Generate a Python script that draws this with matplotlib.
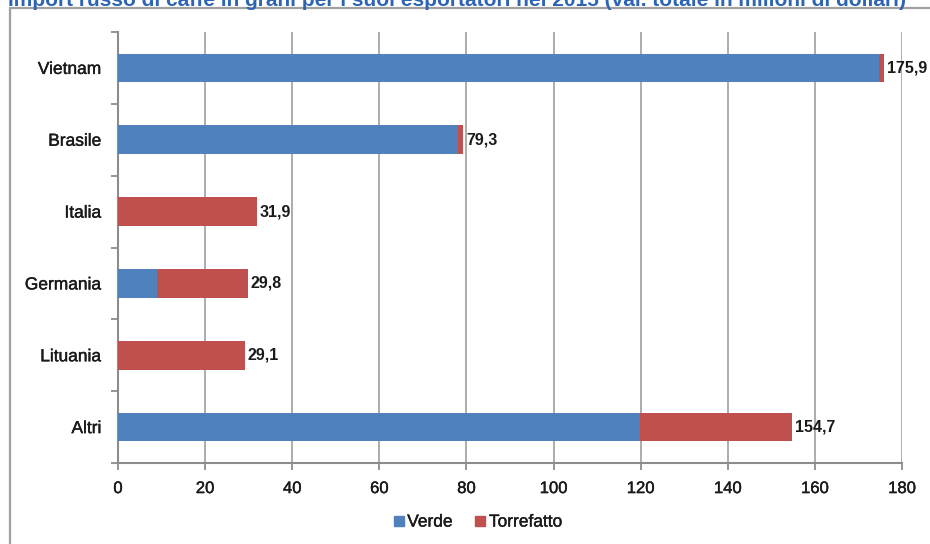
import matplotlib
matplotlib.use("Agg")
import matplotlib.pyplot as plt
from matplotlib.patches import Rectangle
from matplotlib.lines import Line2D
import matplotlib.patheffects as pe
import numpy as np

plt.rcParams['font.family'] = ['Liberation Sans', 'DejaVu Sans']

# Data (milioni di dollari)
paesi = ["Vietnam", "Brasile", "Italia", "Germania", "Lituania", "Altri"]
verde = [174.8, 78.0, 0.0, 8.9, 0.0, 119.8]
torrefatto = [1.1, 1.3, 31.9, 20.9, 29.1, 34.9]
totali = [175.9, 79.3, 31.9, 29.8, 29.1, 154.7]
etichette_totali = ["175,9", "79,3", "31,9", "29,8", "29,1", "154,7"]
xticks = [0, 20, 40, 60, 80, 100, 120, 140, 160, 180]
titolo = ("Import russo di caffè in grani per i suoi esportatori nel 2015 "
          "(val. totale in milioni di dollari)")

BLUE = "#4F81BD"
RED = "#C0504D"
GRID = "#a6a6a6"
AXIS = "#8c8c8c"
TEXT = "#1a1a1a"

# slightly heavier strokes for the regular-weight labels
heavy = [pe.withStroke(linewidth=0.3, foreground=TEXT)]

fig = plt.figure(figsize=(9.3, 5.44), dpi=100)
W, H = 930, 544

# Outer chart frame
fig.patches.append(Rectangle((10 / W, -0.05), 1.05, 1 - 8 / H + 0.05,
                             transform=fig.transFigure, fill=False,
                             edgecolor="#a0a0a0", linewidth=1.6, zorder=0))

# Title
fig.text(8 / W, 1 - 6 / H, titolo, color="#2E64B4", fontsize=15,
         fontweight="bold", ha="left", va="baseline")

ax = fig.add_axes([118 / W, 1 - 463 / H, (902 - 118) / W, (463 - 32) / H])

y = np.arange(len(paesi))
h = 0.4
ax.barh(y, verde, height=h, color=BLUE, zorder=3)
ax.barh(y, torrefatto, left=verde, height=h, color=RED, zorder=3)

for yi, tot, lab in zip(y, totali, etichette_totali):
    ax.annotate(lab, (tot, yi), xytext=(2, 0), textcoords="offset points",
                ha="left", va="center", fontsize=11.5, fontweight="bold",
                color=TEXT, zorder=5)

ax.set_xlim(0, 180)
ax.set_ylim(len(paesi) - 0.5, -0.5)
ax.set_xticks(xticks)
ax.set_xticklabels([str(v) for v in xticks])
ax.set_yticks(y)
ax.set_yticklabels(paesi)
ax.set_yticks(np.arange(-0.5, len(paesi)), minor=True)

ax.tick_params(axis="y", which="major", length=0, pad=12, labelsize=12.5,
               labelcolor=TEXT)
ax.tick_params(axis="y", which="minor", length=5, width=1.3, color=AXIS,
               direction="out")
ax.tick_params(axis="x", which="major", length=5, width=1.3, color=AXIS,
               direction="out", pad=8, labelsize=12, labelcolor=TEXT)
for t in ax.get_xticklabels() + ax.get_yticklabels():
    t.set_path_effects(heavy)

ax.grid(axis="x", color=GRID, linewidth=1.3, zorder=0)
ax.set_axisbelow(True)
for s in ("top", "right"):
    ax.spines[s].set_visible(False)
for s in ("left", "bottom"):
    ax.spines[s].set_color(AXIS)
    ax.spines[s].set_linewidth(1.5)

handles = [Line2D([], [], marker="s", linestyle="none", markersize=6.5,
                  markerfacecolor=BLUE, markeredgecolor=BLUE),
           Line2D([], [], marker="s", linestyle="none", markersize=6.5,
                  markerfacecolor=RED, markeredgecolor=RED)]
leg = fig.legend(handles, ["Verde", "Torrefatto"], loc="center",
                 bbox_to_anchor=(477 / W, 1 - 522 / H), ncol=2, frameon=False,
                 fontsize=12.5, handletextpad=0.1, columnspacing=1.2,
                 handlelength=0.8, labelcolor=TEXT)
for t in leg.get_texts():
    t.set_path_effects(heavy)

fig.savefig("out.png", dpi=100)
